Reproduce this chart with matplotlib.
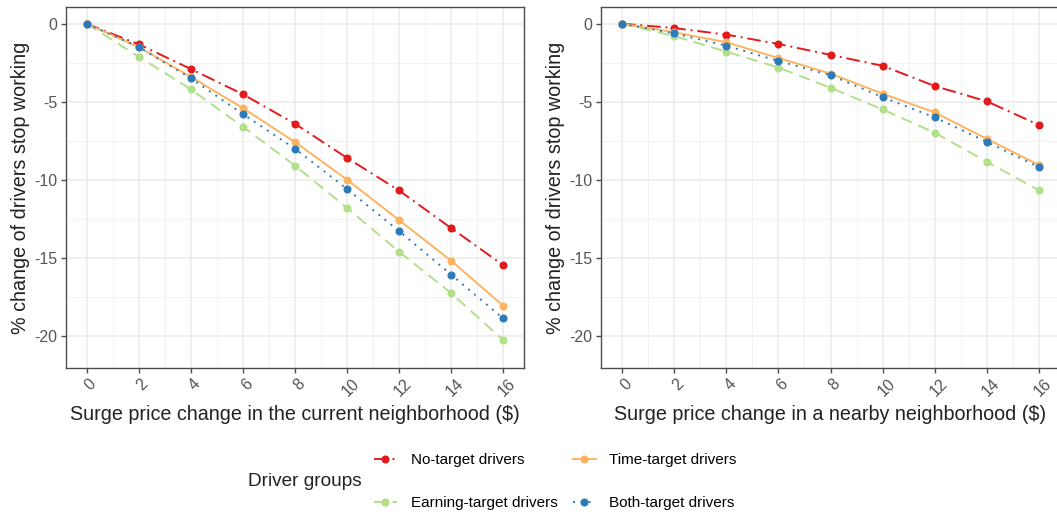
import matplotlib
matplotlib.use("Agg")
import matplotlib.pyplot as plt
import matplotlib.transforms as mtransforms
from matplotlib.lines import Line2D

plt.rcParams['font.family'] = ['Liberation Sans', 'DejaVu Sans']

# surge price change ($)
surge = [0, 2, 4, 6, 8, 10, 12, 14, 16]

# left panel: current neighborhood
cur_none = [0, -1.32, -2.90, -4.52, -6.41, -8.60, -10.69, -13.10, -15.48]
cur_time = [0, -1.50, -3.40, -5.41, -7.58, -9.99, -12.59, -15.19, -18.08]
cur_earn = [0, -2.11, -4.20, -6.60, -9.09, -11.80, -14.61, -17.27, -20.28]
cur_both = [0, -1.49, -3.49, -5.79, -8.01, -10.59, -13.29, -16.08, -18.89]

# right panel: nearby neighborhood
near_none = [0, -0.28, -0.70, -1.30, -2.00, -2.70, -4.00, -4.98, -6.50]
near_time = [0, -0.55, -1.19, -2.20, -3.20, -4.49, -5.69, -7.39, -9.07]
near_earn = [0, -0.79, -1.79, -2.81, -4.11, -5.50, -6.99, -8.86, -10.69]
near_both = [0, -0.62, -1.41, -2.39, -3.30, -4.71, -6.01, -7.58, -9.20]

group_labels = ['No-target drivers', 'Earning-target drivers',
                'Time-target drivers', 'Both-target drivers']
group_colors = ['#E31A1C', '#B2DF8A', '#FDB462', '#2B7BBA']
group_styles = [(0, (7, 2.5, 1, 2.5)), (0, (6, 3.5)), '-', (0, (1, 3))]

W, H = 1057, 517
fig = plt.figure(figsize=(W / 100, H / 100), dpi=100)


def px_axes(x0, y0, x1, y1):
    return fig.add_axes([x0 / W, 1 - y1 / H, (x1 - x0) / W, (y1 - y0) / H])


def style_panel(ax, xlabel):
    ax.set_xlim(-0.8, 16.8)
    ax.set_ylim(-22.05, 1.05)
    ax.set_xticks(surge)
    ax.set_xticks([1, 3, 5, 7, 9, 11, 13, 15], minor=True)
    ax.set_yticks([0, -5, -10, -15, -20])
    ax.set_yticklabels(['0', '-5', '-10', '-15', '-20'])
    ax.set_yticks([-2.5, -7.5, -12.5, -17.5], minor=True)
    ax.grid(True, which='major', color='#EBEBEB', lw=1.1, zorder=0)
    ax.grid(True, which='minor', color='#F2F2F2', lw=0.7, zorder=0)
    ax.set_axisbelow(True)
    for s in ax.spines.values():
        s.set_color('#4D4D4D')
        s.set_linewidth(1.0)
    ax.tick_params(which='major', length=3.5, width=1.0, color='#4D4D4D',
                   labelcolor='#555555', labelsize=11.5, pad=2.5)
    ax.tick_params(which='minor', length=0)
    off = mtransforms.ScaledTranslation(4 / 100, 0, fig.dpi_scale_trans)
    for lab in ax.get_xticklabels():
        lab.set_rotation(45)
        lab.set_ha('center')
        lab.set_va('top')
        lab.set_transform(lab.get_transform() + off)
    ax.set_xlabel(xlabel, fontsize=14.2, color='#222222', labelpad=4)
    ax.set_ylabel('% change of drivers stop working', fontsize=14.2,
                  color='#222222', labelpad=3)


def draw_groups(ax, series):
    for ys, col, ls in zip(series, group_colors, group_styles):
        ax.plot(surge, ys, color=col, ls=ls, lw=1.4, marker='o', ms=4.8,
                zorder=3)


ax1 = px_axes(65.7, 7.3, 524, 367.7)
draw_groups(ax1, [cur_none, cur_earn, cur_time, cur_both])
style_panel(ax1, 'Surge price change in the current neighborhood ($)')

ax2 = px_axes(601, 7.3, 1060, 367.7)
draw_groups(ax2, [near_none, near_earn, near_time, near_both])
style_panel(ax2, 'Surge price change in a nearby neighborhood ($)')

handles = [Line2D([0], [0], color=c, ls=ls, lw=1.4, marker='o', ms=4.8)
           for c, ls in zip(group_colors, group_styles)]
fig.legend(handles, group_labels, ncol=2, loc='center left',
           bbox_to_anchor=(374 / W, 1 - 481.5 / H), frameon=False,
           fontsize=11, handlelength=1.5, handletextpad=0.9,
           columnspacing=1.0, labelspacing=1.9, borderpad=0,
           borderaxespad=0)
fig.text(248 / W, 1 - 481.5 / H, 'Driver groups', fontsize=13.7,
         color='#222222', va='center', ha='left')

fig.savefig('out.png', dpi=100, facecolor='white')
